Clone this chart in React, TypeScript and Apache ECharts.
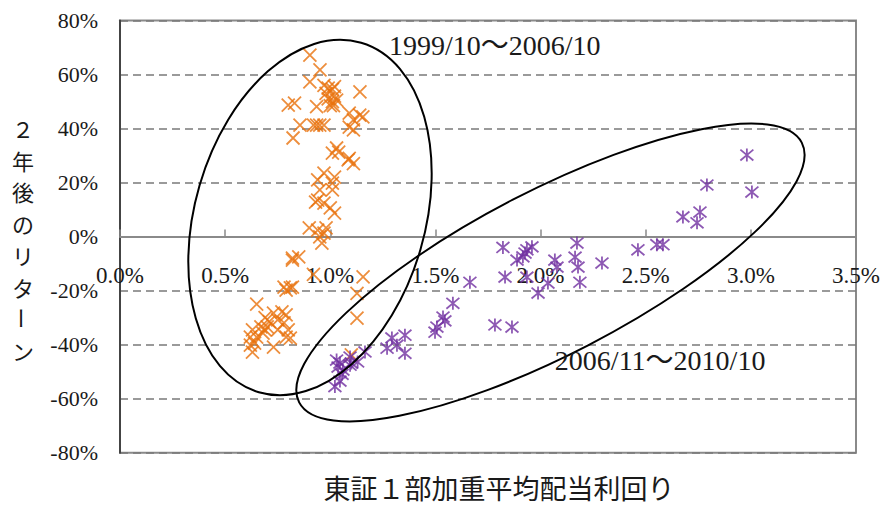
import React, { useEffect, useRef } from 'react';
import * as echarts from 'echarts';

const xTickValues = [0, 0.5, 1.0, 1.5, 2.0, 2.5, 3.0, 3.5];
const yTickValues = [-80, -60, -40, -20, 0, 20, 40, 60, 80];

const xTitle = '東証１部加重平均配当利回り';
const yTitle = '２年後のリターン';
const period1Label = '1999/10～2006/10';
const period2Label = '2006/11～2010/10';

// [dividend yield %, return after 2 years %]
const period1: [number, number][] = [
  [0.903, 67.2], [0.951, 61.7], [0.903, 57.3],
  [0.97, 56], [0.99, 55], [1.01, 54.5], [0.98, 53], [1.02, 52], [0.99, 51], [1.01, 50], [1.03, 50.5], [1.0, 48.5], [1.02, 55.5],
  [1.141, 53.6], [0.80, 48.7], [0.83, 49.4], [0.935, 48.1], [1.015, 48.5],
  [1.09, 45.7], [1.11, 43.2], [1.14, 45], [1.155, 44.3],
  [0.856, 41.3], [0.92, 41.3], [0.935, 41.3], [0.95, 41.3], [0.97, 41.3],
  [1.09, 40.5], [1.11, 39.5], [0.823, 36.5],
  [1.03, 32.8], [1.01, 30.9], [1.04, 31.3], [1.09, 29], [1.11, 27], [1.085, 28.4],
  [0.97, 23.5], [0.94, 21], [1.02, 22], [0.95, 17.3], [1.01, 17.3], [1.01, 19.8],
  [0.94, 13.5], [0.93, 12.8], [0.97, 12.4], [1.0, 10.6], [1.02, 8.7],
  [0.90, 3.2], [0.94, 2.4], [0.97, 1.3], [0.98, 3.2], [0.95, -0.1], [0.96, -2.4],
  [0.82, -8], [0.85, -7.5], [0.82, -8.7],
  [1.156, -14.9], [0.92, -14.0], [1.127, -21], [1.127, -30.2], [1.10, -43.8],
  [0.78, -18.7], [0.81, -19], [0.82, -18.7], [0.79, -19.8],
  [0.65, -25],
  [0.73, -28.3], [0.77, -27.9], [0.79, -29], [0.69, -30], [0.71, -31.5], [0.75, -30.8], [0.78, -31.9],
  [0.67, -33.4], [0.69, -34.5], [0.70, -33.4], [0.75, -34.5], [0.80, -34.5], [0.63, -34.5],
  [0.62, -37.2], [0.65, -37.2], [0.68, -35.7], [0.79, -37.2], [0.62, -40.2], [0.64, -39.4],
  [0.73, -40.9], [0.63, -42.8], [0.81, -37.6],
];

const period2: [number, number][] = [
  [1.022, -55.5], [1.046, -53.5], [1.056, -51], [1.03, -45.7], [1.046, -46.8], [1.037, -48.3],
  [1.06, -49.4], [1.094, -47.6], [1.10, -46.8], [1.13, -46.4], [1.094, -44.6], [1.165, -42.7],
  [1.27, -41.3], [1.293, -37.5], [1.317, -40.2], [1.355, -36.5], [1.355, -43.2],
  [1.498, -35.4], [1.507, -33.5], [1.536, -29.8], [1.545, -31.2],
  [1.583, -24.7], [1.664, -16.9], [1.783, -32.7], [1.864, -33.5],
  [1.821, -4.0], [1.888, -8.7], [1.926, -6.1], [1.935, -4.9], [1.959, -3.8], [1.916, -7.5],
  [1.831, -15], [1.935, -15], [1.988, -20.9], [2.035, -17.2], [2.068, -8.7], [2.078, -11.3],
  [2.173, -2.4], [2.164, -7.6], [2.178, -11.3], [2.187, -16.9], [2.292, -9.8], [2.463, -4.9],
  [2.553, -3.0], [2.582, -3.0], [2.677, 7.3], [2.744, 5.1], [2.758, 9.1], [2.791, 19.1],
  [2.981, 30.2], [3.005, 16.5],
];

// ellipse annotations: centre in data units
const ellipse1Center: [number, number] = [0.9035, 7.07];
const ellipse2Center: [number, number] = [2.047, -13.29];
const label1Pos: [number, number] = [1.279, 70.9];
const label2Pos: [number, number] = [2.068, -45.7];

const SERIF = 'Liberation Serif';
const SERIF_CJK = "'Liberation Serif', 'Noto Sans CJK JP', serif";
const JP = "'Noto Sans CJK JP', sans-serif";

export default function App() {
  const ref = useRef<HTMLDivElement>(null);
  useEffect(() => {
    const chart = echarts.init(ref.current!, null, { renderer: 'svg' });
    chart.setOption({
      animation: false,
      backgroundColor: '#fff',
      grid: {
        left: 120, right: 29, top: 20.5, bottom: 53.3,
        show: true, borderColor: '#8a8a8a', borderWidth: 2, backgroundColor: 'transparent',
      },
      xAxis: {
        type: 'value',
        position: 'bottom',
        min: xTickValues[0],
        max: xTickValues[xTickValues.length - 1],
        interval: 0.5,
        axisLine: { show: true, onZero: false, lineStyle: { color: '#8a8a8a', width: 2 } },
        axisTick: { show: true, inside: true, length: 7, lineStyle: { color: '#8a8a8a', width: 1.5 } },
        splitLine: { show: false },
        axisLabel: {
          margin: 27,
          fontFamily: SERIF, fontSize: 23, color: '#1a1a1a',
          showMinLabel: true, showMaxLabel: true,
          formatter: (v: number) => v.toFixed(1) + '%',
        },
      },
      yAxis: {
        type: 'value',
        min: yTickValues[0],
        max: yTickValues[yTickValues.length - 1],
        interval: 20,
        axisLine: { show: true, onZero: false, lineStyle: { color: '#444', width: 2 } },
        axisTick: { show: false },
        splitLine: { show: true, lineStyle: { color: '#7a7a7a', width: 1.5, type: [8, 5] } },
        axisLabel: {
          margin: 22,
          fontFamily: SERIF, fontSize: 22, color: '#1a1a1a',
          formatter: (v: number) => v + '%',
        },
      },
      series: [
        {
          type: 'scatter',
          name: period1Label,
          data: period1,
          symbol: 'path://M0,0L10,10M10,0L0,10',
          symbolSize: 13,
          itemStyle: { color: 'none', borderColor: '#E8720C', borderWidth: 1.8 },
          z: 3,
        },
        {
          type: 'scatter',
          name: period2Label,
          data: period2,
          symbol: 'path://M0,0L10,10M10,0L0,10M5,-1L5,11',
          symbolSize: 13,
          itemStyle: { color: 'none', borderColor: '#7030A0', borderWidth: 1.8 },
          z: 3,
        },
      ],
    });

    // move the x axis (line, ticks, labels) up to y = 0, as in the reference
    const yZero = (chart.convertToPixel({ gridIndex: 0 }, [0, 0]) as number[])[1];
    const yBottom = (chart.convertToPixel({ gridIndex: 0 }, [0, yTickValues[0]]) as number[])[1];

    const c1 = chart.convertToPixel({ gridIndex: 0 }, ellipse1Center) as number[];
    const c2 = chart.convertToPixel({ gridIndex: 0 }, ellipse2Center) as number[];
    const l1 = chart.convertToPixel({ gridIndex: 0 }, label1Pos) as number[];
    const l2 = chart.convertToPixel({ gridIndex: 0 }, label2Pos) as number[];

    const pitch = 31.7;
    const yTitleChars = Array.from(yTitle);
    const yStart = 239 - ((yTitleChars.length - 1) / 2) * pitch;
    const yTitleEls = yTitleChars.map((ch, i) => ({
      type: 'text',
      x: 23,
      y: yStart + i * pitch,
      rotation: ch === 'ー' ? -Math.PI / 2 : 0,
      style: {
        text: ch, fontFamily: JP, fontSize: 22, fill: '#1a1a1a',
        textAlign: 'center', textVerticalAlign: 'middle',
      },
    }));

    chart.setOption({
      xAxis: { offset: -(yBottom - yZero) },
      graphic: [
        {
          type: 'ellipse', x: c1[0], y: c1[1], rotation: -0.2845,
          shape: { cx: 0, cy: 0, rx: 115, ry: 182 },
          style: { fill: 'none', stroke: '#000', lineWidth: 2 }, z: 10,
        },
        {
          type: 'ellipse', x: c2[0], y: c2[1], rotation: 0.4774,
          shape: { cx: 0, cy: 0, rx: 283, ry: 82 },
          style: { fill: 'none', stroke: '#000', lineWidth: 2 }, z: 10,
        },
        {
          type: 'text', x: l1[0], y: l1[1],
          style: { text: period1Label, fontFamily: SERIF_CJK, fontSize: 28, fill: '#1a1a1a', textAlign: 'left', textVerticalAlign: 'middle' },
          z: 10,
        },
        {
          type: 'text', x: l2[0], y: l2[1],
          style: { text: period2Label, fontFamily: SERIF_CJK, fontSize: 28, fill: '#1a1a1a', textAlign: 'left', textVerticalAlign: 'middle' },
          z: 10,
        },
        {
          type: 'text', x: 499, y: 487,
          style: { text: xTitle, fontFamily: JP, fontSize: 27, fill: '#1a1a1a', textAlign: 'center', textVerticalAlign: 'middle' },
          z: 10,
        },
        ...yTitleEls,
      ],
    });

    return () => chart.dispose();
  }, []);
  return <div ref={ref} style={{ position: 'fixed', left: 0, top: 0, width: 885, height: 506 }} />;
}
